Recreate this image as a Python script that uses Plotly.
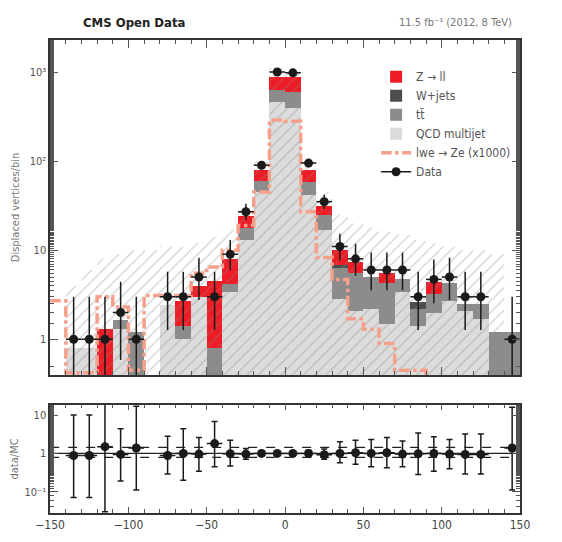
import plotly.graph_objects as go

# bin centres (width 10)
centers = list(range(-145, 150, 10))

qcd = [None, 0.8, 0.8, None, 1.3, None, None, 2.4, 1.0, 3.0, 0.3, 3.4, 13, 45, 460, 400,
       42, 17, 2.8, 2.1, 2.2, 1.5, 3.4, 1.4, 2.0, 2.7, 2.1, 1.7, None, None]
ttbar = [None, None, None, None, 0.35, 1.2, None, None, 0.4, None, 0.5, 0.8, 5, 15, 170, 190,
         16, 8, 3.5, 3.4, 2.8, 2.8, 1.4, 0.8, 1.2, 1.6, 0.4, 0.8, 1.2, 1.2]
wjets = [None] * 18 + [0.5] + [None] * 4 + [0.4] + [None] * 6
zll = [None, None, None, 1.3, None, None, None, None, 1.3, 1.0, 3.7, 3.8, 6, 20, 250, 290,
       22, 6, 3.2, 1.8, None, 1.2, None, None, 1.2, None, None, None, None, None]
signal = [2.7, 0.42, 0.42, 3.0, 2.3, 0.45, 3.1, 3.1, 3.1, 5.5, 6.5, 10, 19, 45, 290, 280,
          27, 8.3, 4.7, 1.7, 1.3, 0.9, 0.45, 0.45, 0.38, 0.38, 0.38, 0.38, 0.38, 0.38]
band_up = [None, 4, 6, 8, 9, 10, 10, 11, 11, 12, 14, 17, 30, 100, 1100, 1100,
           90, 45, 25, 20, 18, 16, 15, 13, 12, 11, 10, 10, 9, None]
data = [None, 1, 1, 1, 2, 1, None, 3, 3, 5, 3, 9, 27, 90, 1000, 980,
        95, 35, 11, 8, 6, 6, 6, 3, 4.7, 5, 3, 3, None, 1]
ratio = [None, 0.88, 0.88, 1.5, 0.94, 1.38, None, 0.88, 1.0, 0.96, 1.8, 0.98, 0.96, 1.0, 1.0, 1.0,
         1.0, 0.92, 1.0, 1.04, 1.0, 1.04, 0.96, 0.98, 1.0, 0.96, 0.94, 0.94, None, 1.38]
ratio_hi = [None, 10, 10, 28, 4.4, 17, None, 2.8, 4.4, 2.6, 6.8, 2.2, 1.35, 1.15, 1.05, 1.05,
            1.2, 1.3, 2.0, 2.2, 2.3, 2.6, 2.1, 3.4, 2.7, 2.3, 3.2, 3.2, None, 16]
ratio_lo = [None, 0.07, 0.07, 0.03, 0.19, 0.11, None, 0.29, 0.2, 0.34, 0.45, 0.47, 0.7, 0.85, 0.95, 0.95,
            0.8, 0.7, 0.57, 0.52, 0.45, 0.42, 0.45, 0.28, 0.34, 0.4, 0.29, 0.29, None, 0.11]

FONT = "DejaVu Sans Condensed"
YBOT = 0.4

fig = go.Figure()
for name, vals, col, rank in [("QCD multijet", qcd, "#dcdcdc", 4), ("tt̄", ttbar, "#8c8c8c", 3),
                              ("W+jets", wjets, "#4d4d4d", 2), ("Z → ll", zll, "#ee1c25", 1)]:
    fig.add_trace(go.Bar(x=centers, y=vals, width=10, name=name, marker_color=col,
                         marker_line_width=0, legendrank=rank))

# hatched uncertainty band
hx, hy = [], []
for c, u in zip(centers, band_up):
    if u is None:
        continue
    hx += [c - 5, c + 5]
    hy += [u, u]
hx = hx + [hx[-1], hx[0], hx[0]]
hy = hy + [YBOT, YBOT, hy[0]]
fig.add_trace(go.Scatter(x=hx, y=hy, fill="toself", mode="none", showlegend=False,
                         fillpattern=dict(shape="/", fgcolor="#888888", bgcolor="rgba(0,0,0,0)",
                                          size=8, solidity=0.12),
                         fillcolor="rgba(0,0,0,0)", hoverinfo="skip"))

# signal step line
sx = [c - 5 for c in centers] + [centers[-1] + 5]
sy = signal + [signal[-1]]
fig.add_trace(go.Scatter(x=sx, y=sy, mode="lines", line_shape="hv", name="lwe → Ze (x1000)",
                         legendrank=5, line=dict(color="#f4a08a", width=3.5, dash="dashdot")))

# data
dx = [c for c, d in zip(centers, data) if d is not None]
dy = [d for d in data if d is not None]
eup = [d ** 0.5 + 1 for d in dy]
edn = [min(d ** 0.5, d - 0.3) if d > 1 else 1 for d in dy]
fig.add_trace(go.Scatter(x=dx, y=dy, mode="markers", showlegend=False,
                         marker=dict(color="#1a1a1a", size=9),
                         error_x=dict(type="constant", value=5, color="#1a1a1a", width=0, thickness=1.5),
                         error_y=dict(type="data", array=eup, arrayminus=edn, symmetric=False,
                                      color="#1a1a1a", width=0, thickness=1.5)))
fig.add_trace(go.Scatter(x=[None], y=[None], mode="lines+markers", name="Data", legendrank=6,
                         line=dict(color="#1a1a1a", width=1.5), marker=dict(color="#1a1a1a", size=9)))

# ratio panel
rx = [c for c, r in zip(centers, ratio) if r is not None]
ry = [r for r in ratio if r is not None]
rhi = [h - r for h, r in zip([h for h in ratio_hi if h is not None], ry)]
rlo = [r - l for l, r in zip([l for l in ratio_lo if l is not None], ry)]
for lvl, dash in [(1.44, "dash"), (1.0, "solid"), (0.79, "dash")]:
    fig.add_trace(go.Scatter(x=[-150, 150], y=[lvl, lvl], mode="lines", showlegend=False,
                             line=dict(color="#222", width=1.2, dash=dash), xaxis="x2", yaxis="y2"))
fig.add_trace(go.Scatter(x=rx, y=ry, mode="markers", showlegend=False, xaxis="x2", yaxis="y2",
                         marker=dict(color="#1a1a1a", size=9),
                         error_x=dict(type="constant", value=5, color="#1a1a1a", width=0, thickness=1.5),
                         error_y=dict(type="data", array=rhi, arrayminus=rlo, symmetric=False,
                                      color="#1a1a1a", width=3, thickness=1.5)))

xax = dict(range=[-150, 150], showline=True, linecolor="#333", linewidth=1.5, mirror="ticks",
           ticks="inside", ticklen=8, tickwidth=1.2, tickcolor="#555", dtick=50, tick0=0,
           minor=dict(ticks="inside", ticklen=4, dtick=10, tickcolor="#555"),
           showgrid=False, zeroline=False, automargin=False,
           tickfont=dict(family=FONT, size=12, color="#444"))
yax = dict(type="log", showline=True, linecolor="#333", linewidth=1.5, mirror="ticks",
           ticks="inside", ticklen=8, tickcolor="#555", showgrid=False, zeroline=False,
           minor=dict(ticks="inside", ticklen=4, tickcolor="#555"), automargin=False,
           tickfont=dict(family=FONT, size=11, color="#555"))

fig.update_layout(
    width=562, height=542, margin=dict(l=0, r=0, t=0, b=0),
    paper_bgcolor="white", plot_bgcolor="white", barmode="stack", bargap=0,
    font=dict(family=FONT, color="#444"),
    xaxis=dict(xax, domain=[0.075, 0.911], showticklabels=False, anchor="y"),
    yaxis=dict(yax, domain=[0.323, 0.941], range=[-0.4, 3.36], anchor="x",
               tickvals=[1, 10, 100, 1000], ticktext=["1", "10", "10²", "10³"],
               title=dict(text="Displaced vertices/bin", font=dict(size=11, color="#777"), standoff=8)),
    xaxis2=dict(xax, domain=[0.075, 0.911], anchor="y2", ticklen=6),
    yaxis2=dict(yax, domain=[0.068, 0.268], range=[-1.56, 1.27], anchor="x2",
                tickvals=[0.1, 1, 10], ticktext=["10⁻¹", "1", "10"],
                title=dict(text="data/MC", font=dict(size=11, color="#777"), standoff=10)),
    legend=dict(x=0.655, y=0.90, xanchor="left", yanchor="top", traceorder="normal",
                bgcolor="rgba(255,255,255,0)", font=dict(size=12, color="#555"),
                itemwidth=30, tracegroupgap=0),
    annotations=[
        dict(text="<b>CMS Open Data</b>", x=0.13, y=0.974, xref="paper", yref="paper",
             xanchor="left", yanchor="middle", showarrow=False, font=dict(size=13, color="#222")),
        dict(text="11.5 fb⁻¹ (2012, 8 TeV)", x=0.90, y=0.974, xref="paper", yref="paper",
             xanchor="right", yanchor="middle", showarrow=False, font=dict(size=11, color="#777")),
    ],
)
fig.write_html("out.html")
